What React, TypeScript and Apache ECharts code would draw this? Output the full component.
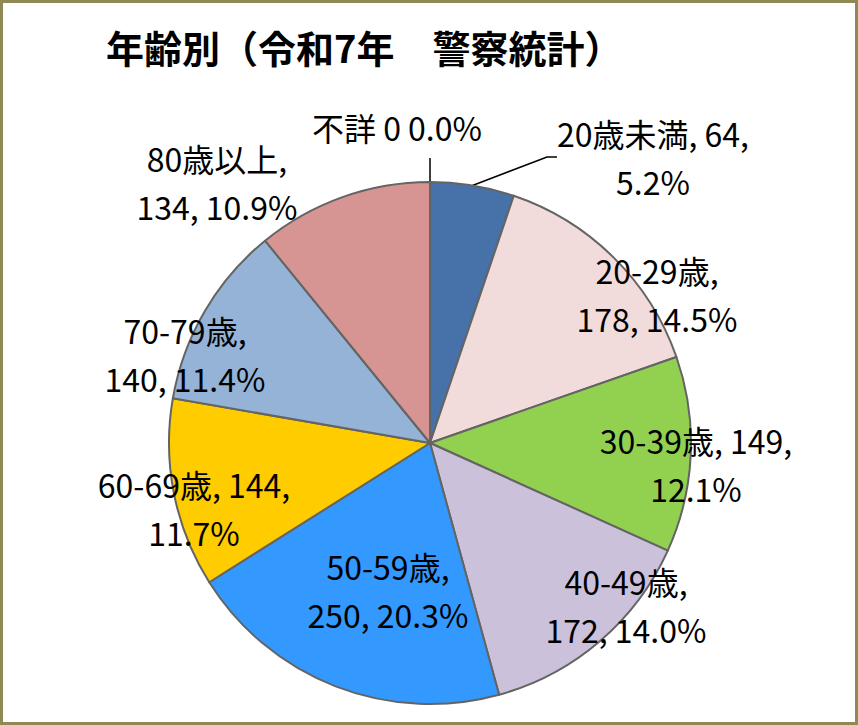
import React, { useEffect, useRef } from 'react';
import * as echarts from 'echarts';

const titleText = '年齢別（令和7年　警察統計）';
const categories = ['不詳', '20歳未満', '20-29歳', '30-39歳', '40-49歳', '50-59歳', '60-69歳', '70-79歳', '80歳以上'];
const counts = [0, 64, 178, 149, 172, 250, 144, 140, 134];

const colors = ['#7F7F7F', '#4671A9', '#F2DCDB', '#92D050', '#CCC1DA', '#3399FF', '#FFCC00', '#95B3D7', '#D69492'];
// label box centers (layout only)
const labelPos: [number, number][] = [
  [430, 127], [653, 157], [657, 294], [696, 464], [626, 605], [388, 590], [194, 508], [185, 354], [217, 182],
];
// where the line break goes in each label
const labelBreak = ['none', 'late', 'early', 'late', 'early', 'early', 'late', 'early', 'early'];
const outsideLabels = [true, true, false, false, false, false, false, false, false];

const total = counts.reduce((a, b) => a + b, 0);
const FONT = "'Liberation Sans Narrow', 'Noto Sans CJK JP', sans-serif";

export default function App() {
  const ref = useRef<HTMLDivElement>(null);
  useEffect(() => {
    if (!ref.current) return;
    const chart = echarts.init(ref.current, undefined, { renderer: 'svg' });
    const data = categories.map((name, i) => ({
      name,
      value: counts[i],
      itemStyle: { color: colors[i] },
      label: i === 0
        ? { position: 'outside', padding: [0, 66, 14, 0] }
        : { position: outsideLabels[i] ? 'outside' : 'inside' },
      labelLine: { show: outsideLabels[i] },
    }));
    chart.setOption({
      animation: false,
      backgroundColor: '#FFFFFF',
      title: {
        text: titleText,
        left: 101,
        top: 22,
        textStyle: { fontSize: 38, fontWeight: 'bold', color: '#000', fontFamily: "'Noto Sans CJK JP', sans-serif" },
      },
      graphic: [
        {
          type: 'rect',
          shape: { x: 1.5, y: 1.5, width: 855, height: 722 },
          style: { fill: 'none', stroke: '#8F8A55', lineWidth: 3 },
          z: 100,
        },
      ],
      series: [
        {
          type: 'pie',
          center: [430, 443],
          radius: 261,
          startAngle: 90,
          clockwise: true,
          avoidLabelOverlap: false,
          itemStyle: { borderColor: '#646464', borderWidth: 2 },
          label: {
            show: true,
            color: '#000',
            fontSize: 32,
            lineHeight: 48,
            fontFamily: FONT,
            align: 'center',
            formatter: (p: any) => {
              const i = p.dataIndex;
              const v = counts[i];
              const pct = ((v / total) * 100).toFixed(1) + '%';
              if (labelBreak[i] === 'none') return `${p.name} ${v} ${pct}`;
              if (labelBreak[i] === 'late') return `${p.name}, ${v},\n${pct}`;
              return `${p.name},\n${v}, ${pct}`;
            },
          },
          labelLine: { show: false, smooth: false, length: 20, length2: 10, lineStyle: { color: '#000', width: 1.5 } },
          labelLayout: (params: any) => {
            const [x, y] = labelPos[params.dataIndex];
            return { x, y, align: 'center', verticalAlign: 'middle' };
          },
          emphasis: { disabled: true },
          data,
        },
      ],
    });
    return () => chart.dispose();
  }, []);
  return <div ref={ref} style={{ position: 'absolute', left: 0, top: 0, width: 858, height: 725 }} />;
}
